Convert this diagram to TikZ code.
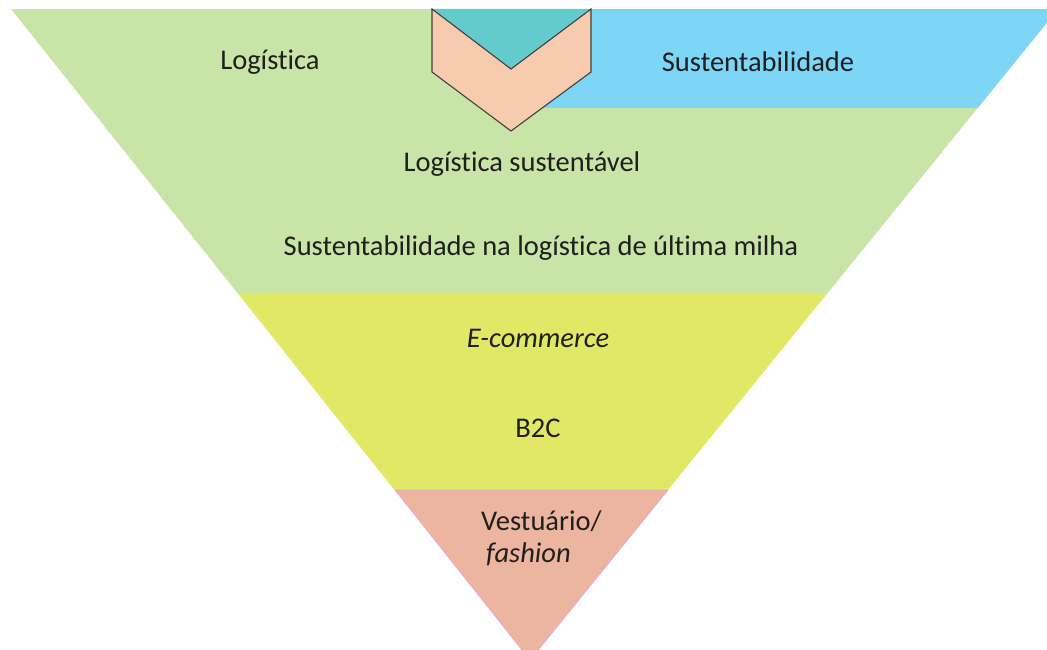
\documentclass[tikz,border=0pt]{standalone}
\usepackage{fontspec}
\setmainfont{Carlito}[Ligatures=NoCommon]
\usepackage{tikz}
\usetikzlibrary{positioning}

\definecolor{logGreen}{HTML}{C8E4A7}
\definecolor{sustBlue}{HTML}{7DD6F6}
\definecolor{notchTeal}{HTML}{63CBCB}
\definecolor{chevPeach}{HTML}{F7CBAE}
\definecolor{ecomYellow}{HTML}{E1E866}
\definecolor{fashSalmon}{HTML}{EBB5A0}
\definecolor{fashEdge}{HTML}{E9A9D4}

\begin{document}
\begin{tikzpicture}[x=1pt, y=-1pt, node distance=84pt, on grid, font=\fontsize{28.5}{32}\selectfont, every node/.style={text=black!88}]
			\useasboundingbox (0,0) rectangle (1047,650);
			\clip (0,0) rectangle (1047,650);
			% funnel bands
			\begin{scope}
				\clip (11,9) -- (1058,9) -- (530,660) -- cycle;
				\fill[logGreen]   (0,9)   rectangle (1060,293);
				\fill[sustBlue]   (520,9) rectangle (1060,108);
				\fill[ecomYellow] (0,293) rectangle (1060,490);
			\end{scope}
			\filldraw[fill=fashSalmon, draw=fashEdge, line width=0.8pt] (395,490) -- (668,490) -- (530,660) -- cycle;
			% chevron
			\fill[notchTeal] (432,9) -- (591,9) -- (511,69) -- cycle;
			\filldraw[fill=chevPeach, draw=black!75, line width=1.1pt] (432,9) -- (511,69) -- (591,9) -- (591,72) -- (511,131) -- (432,72) -- cycle;

			\node (log)     at (270,62)  {Logística};
			\node (sust)    at (758,62)  {Sustentabilidade};
			\node (logsust) at (522,164) {Logística sustentável};
			\node (milha)   [below=of logsust, xshift=19pt] {Sustentabilidade na logística de última milha};
			\node (ecom)    at (538,338) {\itshape E-commerce};
			\node (b2c)     [below=90pt of ecom] {B2C};
			\node[anchor=north west, align=left, inner sep=0pt] (fash) at (481,511) {Vestuário/\\\hspace*{5pt}\itshape fashion};
\end{tikzpicture}
\end{document}
